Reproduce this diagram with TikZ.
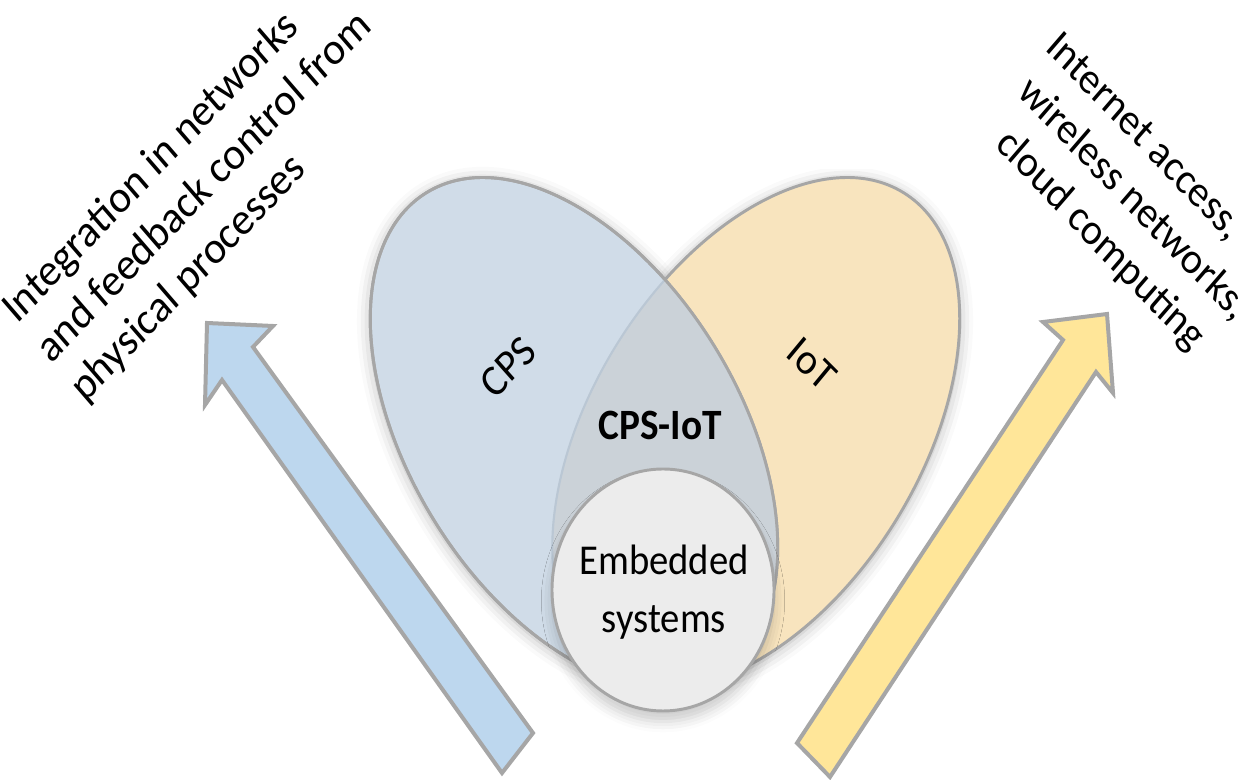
\documentclass[tikz,border=0pt]{standalone}
\usepackage{fontspec}
\setmainfont{Carlito}
\usetikzlibrary{shadows.blur}
\definecolor{cpsfill}{RGB}{208,220,232}
\definecolor{iotfill}{RGB}{248,228,190}
\definecolor{interfill}{RGB}{203,210,216}
\definecolor{embfill}{RGB}{236,236,236}
\definecolor{edgegray}{RGB}{166,166,166}
\definecolor{faintedge}{RGB}{186,199,212}
\definecolor{bluearrow}{RGB}{189,215,238}
\definecolor{yellowarrow}{RGB}{255,230,153}
\begin{document}
\begin{tikzpicture}[x=0.75pt,y=0.75pt,
  vennedge/.style={draw=edgegray, line width=2.2pt},
  arrowshape/.style={draw=edgegray, line width=3pt, line join=miter},
  sideblock/.style={inner sep=0pt, anchor=north west, align=left},
  sideline/.style={inner sep=0pt, anchor=base west, yscale=1.1, rotate=-43.5, font=\fontsize{30}{38}\selectfont},
  vlabel/.style={inner sep=0pt},
  softglow/.style={blur shadow={shadow xshift=0pt, shadow yshift=-2pt, shadow blur radius=10pt, shadow opacity=30}},
  softdrop/.style={blur shadow={shadow xshift=0pt, shadow yshift=-8pt, shadow blur radius=8pt, shadow opacity=20}},
  cpsrot/.style={rotate around={-58.5:(574,347)}},
  iotrot/.style={rotate around={58.5:(756,347)}}]
\useasboundingbox (0,0) rectangle (1256,780);

% arrows
\filldraw[arrowshape, fill=bluearrow]
  (207,457) -- (273,454) -- (253,433) -- (533,47) -- (502,7) -- (222,400) -- (205,375) -- cycle;
\filldraw[arrowshape, fill=yellowarrow]
  (1107,466) -- (1113,387) -- (1096,408) -- (830,3) -- (797,37) -- (1063,440) -- (1043,458) -- cycle;

% shadows of the sets
\path[softglow, fill=white, iotrot] (756,347) ellipse [x radius=282, y radius=165];
\path[softglow, fill=white, cpsrot] (574,347) ellipse [x radius=282, y radius=165];

% IoT set
\filldraw[vennedge, fill=iotfill, iotrot] (756,347) ellipse [x radius=282, y radius=165];
% CPS set
\filldraw[vennedge, fill=cpsfill, cpsrot] (574,347) ellipse [x radius=282, y radius=165];
% intersection
\begin{scope}
  \clip[cpsrot] (574,347) ellipse [x radius=282, y radius=165];
  \fill[interfill, iotrot] (756,347) ellipse [x radius=282, y radius=165];
  \draw[faintedge, line width=1.6pt, iotrot] (756,347) ellipse [x radius=282, y radius=165];
\end{scope}
\draw[vennedge, cpsrot] (574,347) ellipse [x radius=282, y radius=165];

% embedded systems
\path[softdrop, fill=embfill] (663,190) ellipse [x radius=111, y radius=121];
\filldraw[vennedge, fill=embfill] (663,190) ellipse [x radius=111, y radius=121];

% labels
\node[vlabel, yscale=1.1, rotate=44.3, font=\fontsize{30}{36}\selectfont] (cps) at (508,413) {CPS};
\node[vlabel, yscale=1.1, rotate=-42.3, font=\fontsize{30}{36}\selectfont] (iot) at (812,416) {IoT};
\node[vlabel, yscale=1.1, font=\fontsize{29.5}{36}\selectfont\bfseries] (cpsiot) at (660,355) {CPS-IoT};
\node[vlabel, yscale=1.1, align=center, font=\fontsize{29}{39.5}\selectfont] (emb) at (664,188) {Embedded\\systems};

% side texts
\node[sideblock, yscale=1.1, rotate=43.5, font=\fontsize{31}{37}\selectfont] (cpstext) at (-3,478)
  {Integration in networks\\and feedback control from\\physical processes};
\node[sideline] (iot1) at (1044,731) {Internet access,};
\node[sideline] (iot2) at (1016,686) {wireless networks,};
\node[sideline] (iot3) at (994,634) {cloud computing};
\end{tikzpicture}
\end{document}
